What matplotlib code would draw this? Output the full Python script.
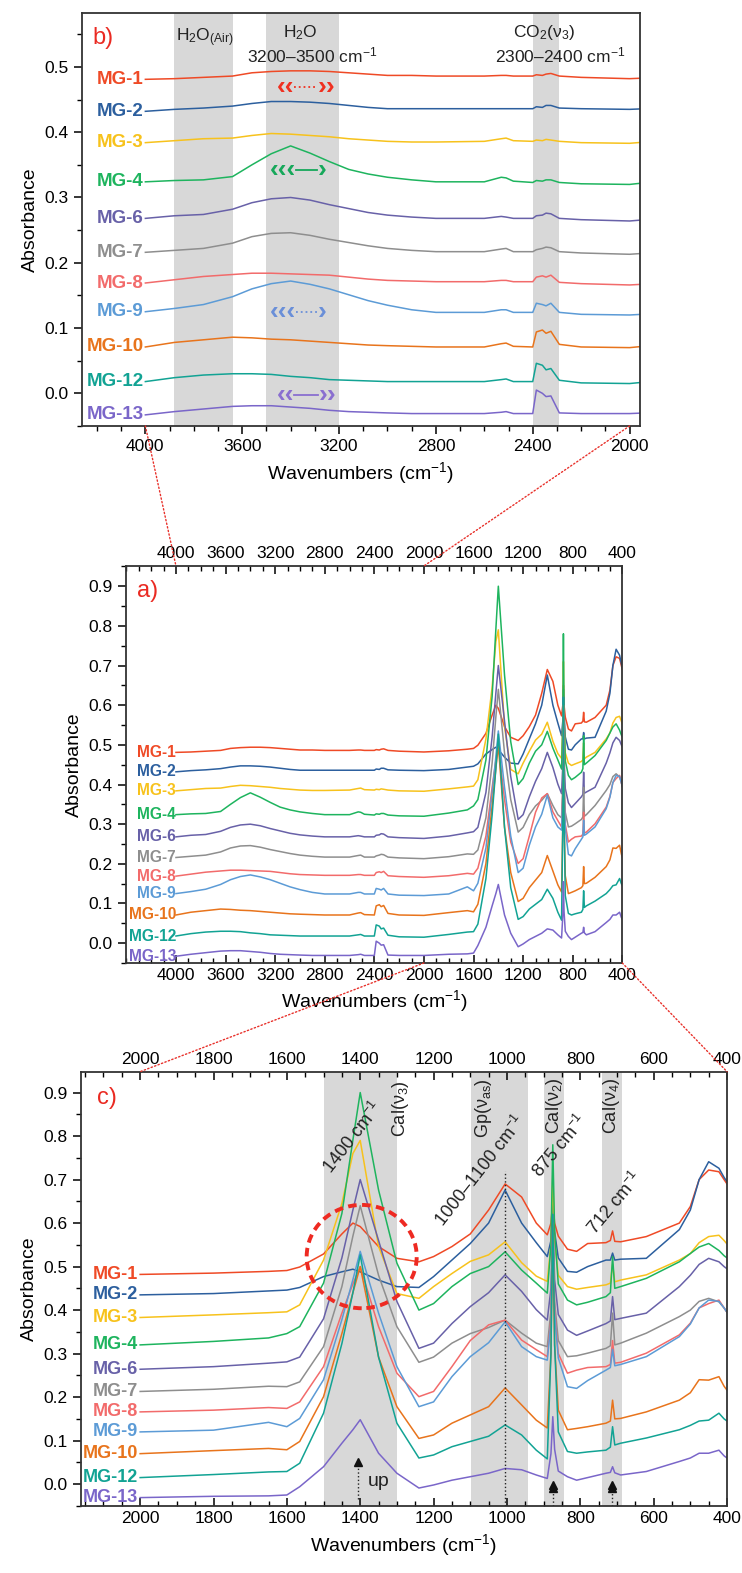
import matplotlib as mpl
mpl.use('Agg')
import matplotlib.pyplot as plt
from matplotlib.patches import Ellipse, ConnectionPatch
from matplotlib.ticker import MultipleLocator, FixedLocator

mpl.rcParams.update({'font.family': ['Liberation Sans', 'DejaVu Sans'],
                     'font.size': 12,
                     'mathtext.fontset': 'custom',
                     'mathtext.rm': 'Liberation Sans',
                     'mathtext.it': 'Liberation Sans:italic',
                     'mathtext.bf': 'Liberation Sans:bold'})

# wavenumber grid (cm-1) the spectra were read at
wavenumbers = [4000, 3880, 3760, 3640, 3560, 3480, 3400, 3320, 3240, 3160, 3080, 3000, 2900,
               2800, 2600, 2530, 2510, 2480, 2400, 2385, 2360, 2345, 2325, 2290, 2200, 2000,
               1800, 1650, 1600, 1565, 1500, 1450, 1420, 1400, 1350, 1300, 1240, 1200, 1150,
               1100, 1050, 1005, 960, 920, 890, 880, 875, 870, 860, 835, 810, 780, 730, 718,
               712, 706, 690, 620, 530, 500, 476, 450, 422, 408, 400]

sample_names = ['MG-1', 'MG-2', 'MG-3', 'MG-4', 'MG-6', 'MG-7', 'MG-8', 'MG-9', 'MG-10', 'MG-12', 'MG-13']

mg_1 = [0.481, 0.482, 0.484, 0.486, 0.491, 0.493, 0.494, 0.494, 0.493, 0.491, 0.489, 0.487, 0.487,
        0.486, 0.486, 0.487, 0.487, 0.486, 0.486, 0.488, 0.487, 0.489, 0.490, 0.486, 0.484, 0.482,
        0.485, 0.489, 0.491, 0.499, 0.529, 0.575, 0.600, 0.592, 0.546, 0.519, 0.511, 0.523, 0.546,
        0.575, 0.630, 0.690, 0.660, 0.600, 0.573, 0.600, 0.650, 0.600, 0.570, 0.540, 0.535, 0.553,
        0.555, 0.560, 0.582, 0.558, 0.557, 0.569, 0.600, 0.638, 0.700, 0.722, 0.718, 0.700, 0.690]
mg_2 = [0.432, 0.435, 0.437, 0.440, 0.444, 0.447, 0.447, 0.446, 0.444, 0.441, 0.438, 0.436, 0.436,
        0.436, 0.436, 0.436, 0.436, 0.436, 0.436, 0.439, 0.438, 0.441, 0.441, 0.437, 0.436, 0.435,
        0.438, 0.444, 0.446, 0.452, 0.477, 0.488, 0.494, 0.488, 0.469, 0.454, 0.452, 0.477, 0.515,
        0.553, 0.600, 0.676, 0.600, 0.555, 0.523, 0.560, 0.640, 0.580, 0.520, 0.489, 0.487, 0.500,
        0.515, 0.515, 0.531, 0.515, 0.517, 0.519, 0.585, 0.630, 0.700, 0.741, 0.726, 0.705, 0.695]
mg_3 = [0.384, 0.387, 0.390, 0.391, 0.395, 0.398, 0.397, 0.395, 0.393, 0.390, 0.388, 0.386, 0.385,
        0.385, 0.386, 0.390, 0.391, 0.387, 0.386, 0.388, 0.387, 0.389, 0.388, 0.386, 0.384, 0.383,
        0.389, 0.394, 0.396, 0.412, 0.515, 0.645, 0.760, 0.790, 0.546, 0.438, 0.427, 0.454, 0.484,
        0.512, 0.527, 0.557, 0.509, 0.478, 0.466, 0.550, 0.710, 0.560, 0.480, 0.454, 0.448, 0.452,
        0.458, 0.462, 0.505, 0.465, 0.469, 0.481, 0.515, 0.530, 0.555, 0.569, 0.572, 0.560, 0.552]
mg_4 = [0.324, 0.326, 0.327, 0.332, 0.350, 0.367, 0.379, 0.368, 0.355, 0.343, 0.336, 0.331, 0.327,
        0.324, 0.324, 0.331, 0.330, 0.325, 0.323, 0.326, 0.325, 0.327, 0.327, 0.323, 0.321, 0.320,
        0.328, 0.336, 0.346, 0.362, 0.462, 0.622, 0.791, 0.900, 0.676, 0.508, 0.400, 0.415, 0.454,
        0.484, 0.500, 0.534, 0.492, 0.462, 0.439, 0.550, 0.780, 0.580, 0.460, 0.423, 0.412, 0.418,
        0.431, 0.440, 0.523, 0.450, 0.454, 0.473, 0.511, 0.530, 0.545, 0.553, 0.537, 0.525, 0.520]
mg_6 = [0.268, 0.272, 0.274, 0.282, 0.292, 0.298, 0.300, 0.296, 0.289, 0.283, 0.277, 0.273, 0.270,
        0.268, 0.268, 0.271, 0.270, 0.268, 0.268, 0.272, 0.273, 0.276, 0.275, 0.268, 0.266, 0.264,
        0.270, 0.278, 0.281, 0.292, 0.380, 0.520, 0.630, 0.700, 0.560, 0.420, 0.312, 0.324, 0.369,
        0.408, 0.440, 0.481, 0.443, 0.401, 0.377, 0.450, 0.620, 0.470, 0.390, 0.354, 0.342, 0.352,
        0.369, 0.375, 0.431, 0.378, 0.381, 0.393, 0.454, 0.480, 0.505, 0.519, 0.511, 0.500, 0.495]
mg_7 = [0.216, 0.219, 0.222, 0.230, 0.240, 0.245, 0.246, 0.242, 0.236, 0.231, 0.226, 0.222, 0.219,
        0.217, 0.217, 0.221, 0.222, 0.217, 0.217, 0.220, 0.222, 0.224, 0.223, 0.217, 0.215, 0.213,
        0.218, 0.225, 0.224, 0.235, 0.316, 0.454, 0.570, 0.640, 0.480, 0.362, 0.280, 0.292, 0.324,
        0.346, 0.360, 0.377, 0.347, 0.324, 0.316, 0.400, 0.600, 0.420, 0.330, 0.293, 0.295, 0.301,
        0.312, 0.318, 0.393, 0.320, 0.324, 0.347, 0.385, 0.400, 0.420, 0.427, 0.419, 0.405, 0.395]
mg_8 = [0.169, 0.174, 0.179, 0.182, 0.184, 0.184, 0.183, 0.182, 0.181, 0.178, 0.175, 0.173, 0.172,
        0.171, 0.171, 0.173, 0.173, 0.171, 0.171, 0.178, 0.180, 0.178, 0.181, 0.170, 0.168, 0.166,
        0.170, 0.176, 0.174, 0.189, 0.270, 0.393, 0.460, 0.500, 0.362, 0.255, 0.201, 0.213, 0.270,
        0.330, 0.366, 0.377, 0.331, 0.309, 0.293, 0.380, 0.550, 0.400, 0.300, 0.255, 0.262, 0.268,
        0.270, 0.275, 0.330, 0.278, 0.280, 0.301, 0.343, 0.370, 0.405, 0.415, 0.423, 0.405, 0.395]
mg_9 = [0.125, 0.130, 0.136, 0.148, 0.160, 0.168, 0.172, 0.167, 0.160, 0.151, 0.142, 0.135, 0.128,
        0.124, 0.124, 0.128, 0.128, 0.124, 0.124, 0.138, 0.136, 0.134, 0.138, 0.124, 0.121, 0.120,
        0.124, 0.142, 0.132, 0.151, 0.240, 0.378, 0.470, 0.535, 0.393, 0.270, 0.178, 0.189, 0.247,
        0.293, 0.325, 0.373, 0.316, 0.293, 0.285, 0.370, 0.580, 0.390, 0.290, 0.224, 0.220, 0.238,
        0.262, 0.268, 0.310, 0.272, 0.275, 0.293, 0.339, 0.368, 0.405, 0.423, 0.420, 0.405, 0.395]
mg_10 = [0.071, 0.078, 0.082, 0.086, 0.085, 0.083, 0.082, 0.080, 0.078, 0.076, 0.074, 0.073, 0.072,
         0.071, 0.071, 0.076, 0.077, 0.072, 0.071, 0.094, 0.097, 0.092, 0.095, 0.075, 0.071, 0.070,
         0.077, 0.082, 0.079, 0.098, 0.201, 0.346, 0.440, 0.500, 0.292, 0.178, 0.105, 0.113, 0.140,
         0.159, 0.178, 0.221, 0.182, 0.147, 0.129, 0.300, 0.600, 0.320, 0.170, 0.125, 0.128, 0.132,
         0.140, 0.145, 0.193, 0.150, 0.151, 0.166, 0.193, 0.210, 0.240, 0.239, 0.247, 0.225, 0.216]
mg_12 = [0.018, 0.024, 0.028, 0.030, 0.030, 0.029, 0.026, 0.024, 0.021, 0.020, 0.019, 0.018, 0.018,
         0.018, 0.018, 0.021, 0.022, 0.018, 0.018, 0.046, 0.043, 0.036, 0.038, 0.020, 0.016, 0.015,
         0.022, 0.028, 0.029, 0.048, 0.163, 0.323, 0.440, 0.527, 0.292, 0.140, 0.060, 0.067, 0.086,
         0.098, 0.110, 0.136, 0.113, 0.078, 0.058, 0.300, 0.620, 0.320, 0.120, 0.075, 0.071, 0.074,
         0.078, 0.085, 0.132, 0.090, 0.094, 0.106, 0.125, 0.135, 0.145, 0.147, 0.163, 0.150, 0.145]
mg_13 = [-0.033, -0.028, -0.024, -0.020, -0.019, -0.019, -0.021, -0.023, -0.026, -0.028, -0.029,
         -0.030, -0.031, -0.031, -0.031, -0.029, -0.028, -0.031, -0.031, 0.005, 0.000, -0.005,
         -0.004, -0.030, -0.031, -0.031,
         -0.028, -0.027, -0.025, -0.006, 0.040, 0.094, 0.125, 0.148, 0.071, 0.025, -0.009, -0.002,
         0.009, 0.017, 0.025, 0.036, 0.033, 0.021, 0.013, 0.070, 0.155, 0.080, 0.030, 0.017, 0.009,
         0.015, 0.025, 0.027, 0.040, 0.026, 0.021, 0.029, 0.052, 0.060, 0.071, 0.071, 0.078, 0.065,
         0.060]

spectra = [mg_1, mg_2, mg_3, mg_4, mg_6, mg_7, mg_8, mg_9, mg_10, mg_12, mg_13]
line_colours = ['#ef4a26', '#2c5f9e', '#f7c21c', '#1eb45e', '#6861a8', '#8e8e8e',
                '#f26b6b', '#5c9bd6', '#e8741c', '#12a394', '#7a66c9']

red = '#ea2a22'

fig = plt.figure(figsize=(7.42, 15.73), dpi=100)
ax_b = fig.add_axes([0.1101, 0.7292, 0.7524, 0.2627])
ax_a = fig.add_axes([0.1698, 0.3878, 0.6689, 0.2524])
ax_c = fig.add_axes([0.1088, 0.0424, 0.8710, 0.2763])


def style_axis(ax, xlim, ylim, major_ticks, minor, top=False, xdir='in'):
    ax.set_xlim(*xlim)
    ax.set_ylim(*ylim)
    ax.xaxis.set_major_locator(FixedLocator(major_ticks))
    ax.xaxis.set_minor_locator(MultipleLocator(minor))
    ax.yaxis.set_major_locator(MultipleLocator(0.1))
    ax.yaxis.set_minor_locator(MultipleLocator(0.05))
    ax.tick_params(axis='y', which='major', direction='out', length=6, width=1.1, labelsize=12.5)
    ax.tick_params(axis='y', which='minor', direction='out', length=3.5, width=1.0)
    ax.tick_params(axis='x', which='major', direction=xdir, length=6, width=1.1, labelsize=12.5,
                   top=top, labeltop=top)
    ax.tick_params(axis='x', which='minor', direction=xdir, length=3.5, width=1.0, top=top)
    for sp in ax.spines.values():
        sp.set_linewidth(1.3)
        sp.set_color('#333333')
    ax.set_ylabel('Absorbance', fontsize=14)
    ax.set_xlabel('Wavenumbers (cm$^{-1}$)', fontsize=14)


def plot_spectra(ax, start_wn, label_x, fontsize):
    # spectra are drawn from start_wn downwards, label sits just left of the start
    keep = [i for i, w in enumerate(wavenumbers) if w <= start_wn]
    xs = [wavenumbers[i] for i in keep]
    for name, vals, col in zip(sample_names, spectra, line_colours):
        ys = [vals[i] for i in keep]
        ax.plot(xs, ys, color=col, lw=1.1)
        ax.text(label_x, ys[0], name, color=col, fontsize=fontsize, fontweight='bold',
                ha='right', va='center')


def chevrons(ax, x_start, x_end, y, n_left, n_right, col, ls):
    ax.plot([x_start, x_end], [y, y], color=col, lw=1.3, ls=ls)
    ax.text(x_start, y, '\u2039' * n_left, color=col, fontsize=19, fontweight='bold',
            ha='right', va='center')
    ax.text(x_end, y, '\u203a' * n_right, color=col, fontsize=19, fontweight='bold',
            ha='left', va='center')


# ---- panel b: high wavenumber region
style_axis(ax_b, (4263, 1957), (-0.05, 0.583), list(range(4000, 1999, -400)), 100, xdir='out')
for lo, hi in [(3640, 3880), (3200, 3500), (2290, 2398)]:
    ax_b.axvspan(lo, hi, color='#d8d8d8', lw=0, zorder=0)
plot_spectra(ax_b, 4000, 4008, 13.5)
ax_b.text(0.02, 0.965, 'b)', transform=ax_b.transAxes, color=red, fontsize=17, va='top')
ax_b.text(3755, 0.545, 'H$_2$O$_{\\mathrm{(Air)}}$', fontsize=12.5, ha='center', va='center', color='#222222')
ax_b.text(3360, 0.553, 'H$_2$O', fontsize=12.5, ha='center', va='center', color='#222222')
ax_b.text(3312, 0.518, '3200\u20133500 cm$^{-1}$', fontsize=12.5, ha='center', va='center', color='#222222')
ax_b.text(2352, 0.553, 'CO$_2$(\u03bd$_3$)', fontsize=12.5, ha='center', va='center', color='#222222')
ax_b.text(2288, 0.518, '2300\u20132400 cm$^{-1}$', fontsize=12.5, ha='center', va='center', color='#222222')
chevrons(ax_b, 3385, 3290, 0.470, 2, 2, '#f03020', ':')
chevrons(ax_b, 3378, 3290, 0.342, 3, 1, '#16a85a', '-')
chevrons(ax_b, 3378, 3290, 0.125, 3, 1, '#6a8fd8', ':')
chevrons(ax_b, 3385, 3285, -0.003, 2, 2, '#8a6fd0', '-')

# ---- panel a: full spectrum
style_axis(ax_a, (4403, 400), (-0.05, 0.951), list(range(4000, 399, -400)), 100, top=True)
plot_spectra(ax_a, 4000, 4000, 11.2)
ax_a.text(0.022, 0.965, 'a)', transform=ax_a.transAxes, color=red, fontsize=17, va='top')

# ---- panel c: fingerprint region
style_axis(ax_c, (2162, 400), (-0.051, 0.948), list(range(2000, 399, -200)), 50, top=True)
for lo, hi in [(1300, 1500), (943, 1098), (844, 899), (686, 741)]:
    ax_c.axvspan(lo, hi, color='#d8d8d8', lw=0, zorder=0)
plot_spectra(ax_c, 2000, 2005, 13)
ax_c.text(0.025, 0.965, 'c)', transform=ax_c.transAxes, color=red, fontsize=17, va='top')
ax_c.plot([1005, 1005], [-0.051, 0.72], color='#222222', lw=1.0, ls=':')

txt = dict(fontsize=13, ha='center', va='center', rotation_mode='anchor', color='#222222')
ax_c.text(1419, 0.796, '1400 cm$^{-1}$', rotation=52, **txt)
ax_c.text(1291, 0.862, 'Cal(\u03bd$_3$)', rotation=90, **txt)
ax_c.text(1063, 0.865, 'Gp(\u03bd$_{\\mathrm{as}}$)', rotation=90, **txt)
ax_c.text(1073, 0.72, '1000\u20131100 cm$^{-1}$', rotation=52, **txt)
ax_c.text(870, 0.87, 'Cal(\u03bd$_2$)', rotation=90, **txt)
ax_c.text(855, 0.777, '875 cm$^{-1}$', rotation=50, **txt)
ax_c.text(714, 0.87, 'Cal(\u03bd$_4$)', rotation=90, **txt)
ax_c.text(705, 0.646, '712 cm$^{-1}$', rotation=50, **txt)

ax_c.add_patch(Ellipse((1396, 0.523), width=300, height=0.2375, fill=False,
                       ec='#ee2a22', lw=2.8, ls=(0, (2.2, 1.4)), zorder=5))

# "up" arrow and the two peak markers
ax_c.plot([1405, 1405], [-0.035, 0.045], color='#222222', lw=1.0, ls=':')
ax_c.plot(1405, 0.05, marker='^', color='#111111', ms=6)
ax_c.text(1380, 0.005, 'up', fontsize=14, ha='left', va='center', color='#222222')
for pos in [875, 714]:
    ax_c.plot([pos, pos], [-0.051, -0.012], color='#222222', lw=1.0, ls=':')
    ax_c.plot([pos, pos], [-0.010, -0.002], ls='none', marker='^', color='#111111', ms=5.5)

# dotted red zoom guides between panels
guides = [(ax_b, 4000, -0.05, ax_a, 4000, 0.951),
          (ax_b, 2000, -0.05, ax_a, 2000, 0.951),
          (ax_a, 2000, -0.05, ax_c, 2000, 0.948),
          (ax_a, 400, -0.05, ax_c, 400, 0.948)]
for src, xa, ya, dst, xb, yb in guides:
    con = ConnectionPatch(xyA=(xa, ya), coordsA=src.transData, xyB=(xb, yb), coordsB=dst.transData,
                          color='#e8302a', lw=1.0, ls=':')
    fig.add_artist(con)

fig.savefig('out.png', dpi=100)
